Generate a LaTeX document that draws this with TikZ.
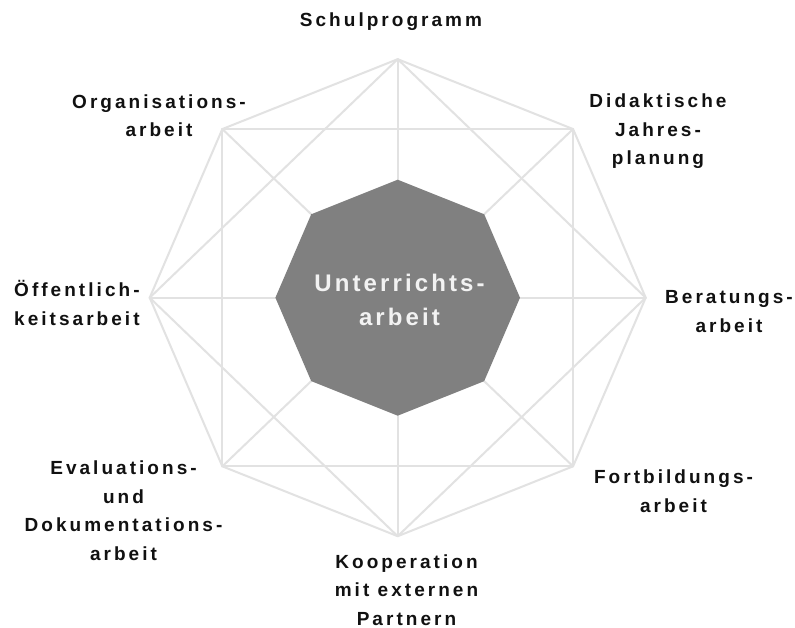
\documentclass[tikz,border=0pt]{standalone}
\usepackage{fontspec}
\setmainfont{Liberation Sans}
\newfontfamily\labelfont[LetterSpace=16]{Liberation Sans Bold}
\newfontfamily\hubfont[LetterSpace=13]{Liberation Sans Bold}
\definecolor{webgray}{RGB}{226,226,226}
\definecolor{hubgray}{RGB}{128,128,128}
\definecolor{labelink}{RGB}{17,17,17}
\begin{document}
\begin{tikzpicture}[x=1pt,y=-1pt,
  web/.style={draw=webgray, line width=2pt, line join=round, line cap=round},
  hub/.style={fill=hubgray, draw=none},
  lbl/.style={font=\labelfont\fontsize{19}{28.5}\selectfont,
              text=labelink, align=center, inner sep=0pt, anchor=base},
  hubtext/.style={font=\hubfont\fontsize{24}{34}\selectfont,
              text=white!95!black, align=center, inner sep=0pt, anchor=base}]
  % canvas
  \path[fill=white] (0,0) rectangle (795,628);
  \useasboundingbox (0,0) rectangle (795,628);

  % vertices of the outer and inner octagons (k=1 at the top, clockwise)
  \foreach \k in {1,...,8}{
    \pgfmathsetmacro{\ang}{90-45*(\k-1)}
    \coordinate (o\k) at ({397.7+248*cos(\ang)},{297.7-238.5*sin(\ang)});
    \coordinate (i\k) at ({397.7+122.3*cos(\ang)},{297.7-118*sin(\ang)});
  }

  % outer octagon
  \draw[web] (o1) -- (o2) -- (o3) -- (o4) -- (o5) -- (o6) -- (o7) -- (o8) -- cycle;
  % the two inscribed squares
  \draw[web] (o1) -- (o3) -- (o5) -- (o7) -- cycle;
  \draw[web] (o2) -- (o4) -- (o6) -- (o8) -- cycle;
  % spokes towards the centre
  \foreach \k in {1,...,8}{ \draw[web] (o\k) -- (i\k); }

  % central octagon
  \fill[hub] (i1) -- (i2) -- (i3) -- (i4) -- (i5) -- (i6) -- (i7) -- (i8) -- cycle;
  % (multi-line nodes: the base anchor sits on the last line)
  \node[hubtext] (hub) at (399.5,325) {Unterrichts-\\arbeit};

  % surrounding fields of work
  \node[lbl] (schul)  at (391,27)    {Schulprogramm};
  \node[lbl] (didakt) at (658,165)   {Didaktische\\Jahres-\\planung};
  \node[lbl] (berat)  at (729,332)   {Beratungs-\\arbeit};
  \node[lbl] (fortb)  at (673.5,512) {Fortbildungs-\\arbeit};
  \node[lbl] (koop)   at (406.5,625) {Kooperation\\mit externen\\Partnern};
  \node[lbl] (eval)   at (123.5,560) {Evaluations-\\und\\Dokumentations-\\arbeit};
  \node[lbl, align=left, anchor=base west] (oeff) at (14,325) {Öffentlich-\\keitsarbeit};
  \node[lbl] (orga)   at (159,137)   {Organisations-\\arbeit};
\end{tikzpicture}
\end{document}
